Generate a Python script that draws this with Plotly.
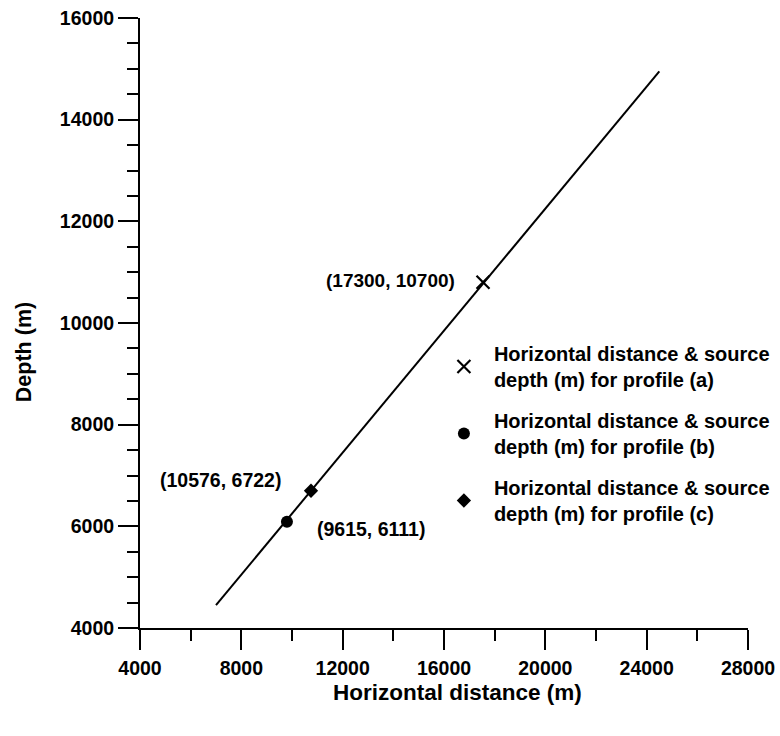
import plotly.graph_objects as go

# Fitted line (horizontal distance vs depth)
line_x = [7000, 24500]
line_y = [4450, 14950]

# Source points
pa_x, pa_y = [17540], [10800]
pb_x, pb_y = [9800], [6090]
pc_x, pc_y = [10750], [6700]

labels = ["(17300, 10700)", "(9615, 6111)", "(10576, 6722)"]
label_x = [16520, 10900, 9650]
label_y = [10846, 5948, 6912]
label_anchor = ["right", "left", "right"]
label_size = [19, 19.5, 19.5]

legend_names = [
    "Horizontal distance & source<br>depth (m) for profile (a)",
    "Horizontal distance & source<br>depth (m) for profile (b)",
    "Horizontal distance & source<br>depth (m) for profile (c)",
]

FONT = "Liberation Sans, Arial, sans-serif"

fig = go.Figure()
fig.add_trace(go.Scatter(x=line_x, y=line_y, mode="lines",
                         line=dict(color="black", width=2), showlegend=False))
fig.add_trace(go.Scatter(x=pa_x, y=pa_y, mode="markers", name=legend_names[0], legendgroup="a",
                         marker=dict(symbol="x-thin-open", size=13, color="black",
                                     line=dict(color="black", width=2.2))))
fig.add_trace(go.Scatter(x=pb_x, y=pb_y, mode="markers", name=legend_names[1], legendgroup="b",
                         marker=dict(symbol="circle", size=12, color="black")))
fig.add_trace(go.Scatter(x=pc_x, y=pc_y, mode="markers", name=legend_names[2], legendgroup="c",
                         marker=dict(symbol="diamond", size=11, color="black")))

for t, x, y, a, s in zip(labels, label_x, label_y, label_anchor, label_size):
    fig.add_annotation(x=x, y=y, text=t, showarrow=False, xanchor=a, yanchor="middle",
                       font=dict(family=FONT, size=s, color="black", weight="bold"))

fig.add_annotation(xref="paper", yref="paper", x=0.523, y=-0.105, text="Horizontal distance (m)",
                   showarrow=False, xanchor="center", yanchor="middle",
                   font=dict(family=FONT, size=22.5, color="black", weight="bold"))
fig.add_annotation(xref="paper", yref="paper", x=-0.191, y=0.452, text="Depth (m)", textangle=-90,
                   showarrow=False, xanchor="center", yanchor="middle",
                   font=dict(family=FONT, size=21.5, color="black", weight="bold"))

axis_common = dict(showgrid=False, zeroline=False, showline=True, linecolor="black", linewidth=2,
                   ticks="outside", ticklen=20, tickwidth=2, tickcolor="black", tickformat="d",
                   automargin=False,
                   tickfont=dict(family=FONT, size=19.5, color="black", weight="bold"))

fig.update_xaxes(range=[4000, 28000], dtick=4000, tick0=4000, ticklabelstandoff=2,
                 minor=dict(ticks="outside", ticklen=11, tickwidth=2, tickcolor="black", dtick=2000),
                 **axis_common)
fig.update_yaxes(range=[4000, 16000], dtick=2000, tick0=4000,
                 minor=dict(ticks="outside", ticklen=11, tickwidth=2, tickcolor="black", dtick=500),
                 **axis_common)

fig.update_layout(
    width=780, height=736,
    margin=dict(l=140, r=32, t=18, b=108, autoexpand=False),
    plot_bgcolor="white", paper_bgcolor="white",
    showlegend=True,
    legend=dict(x=0.4834, y=0.482, xanchor="left", yanchor="top", bgcolor="rgba(0,0,0,0)",
                tracegroupgap=12, valign="middle", itemwidth=50,
                font=dict(family=FONT, size=20, color="black", weight="bold")),
)

fig.write_html("out.html")
